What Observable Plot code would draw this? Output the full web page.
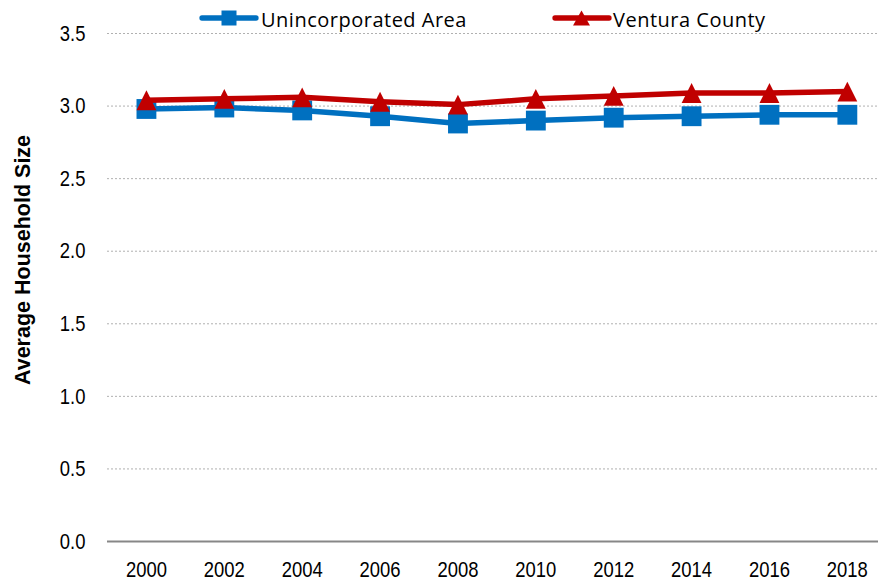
<!DOCTYPE html>
<html>
<head>
<meta charset="utf-8">
<script src="https://cdn.jsdelivr.net/npm/d3@7"></script>
<script src="https://cdn.jsdelivr.net/npm/@observablehq/plot@0.6"></script>
<style>
  html, body { margin: 0; padding: 0; background: #fff; }
  #chart { width: 878px; height: 582px; }
</style>
</head>
<body>
<div id="chart"></div>
<script>
const years = [2000, 2002, 2004, 2006, 2008, 2010, 2012, 2014, 2016, 2018];
const unincorporated = [2.98, 2.99, 2.97, 2.93, 2.88, 2.90, 2.92, 2.93, 2.94, 2.94];
const ventura = [3.04, 3.05, 3.06, 3.03, 3.01, 3.05, 3.07, 3.09, 3.09, 3.10];
const yTicks = [0, 0.5, 1.0, 1.5, 2.0, 2.5, 3.0, 3.5];
const seriesNames = ["Unincorporated Area", "Ventura County"];
const yTitle = "Average Household Size";

const blue = "#0070C0";
const red = "#C00000";

const dataU = years.map((y, i) => ({year: y, value: unincorporated[i]}));
const dataV = years.map((y, i) => ({year: y, value: ventura[i]}));

// Triangle whose bounding box is centred on the point (like Excel markers)
const triangle = {
  draw(ctx, size) {
    const s = Math.sqrt(size) / 2;
    ctx.moveTo(0, -s);
    ctx.lineTo(s, s);
    ctx.lineTo(-s, s);
    ctx.closePath();
  }
};

const plot = Plot.plot({
  width: 878,
  height: 582,
  marginLeft: 107,
  marginRight: 0,
  marginTop: 33,
  marginBottom: 41,
  style: {fontFamily: "'Liberation Sans', Arial, sans-serif", fontSize: "22.5px", color: "#000", background: "#fff"},
  x: {type: "linear", domain: [1999, 2018.8]},
  y: {domain: [0, 3.5]},
  marks: [
    Plot.gridY(yTicks.filter(d => d > 0), {stroke: "#b0b0b0", strokeOpacity: 1, strokeDasharray: "2,2", strokeWidth: 1}),
    Plot.ruleY([0], {stroke: "#878787", strokeWidth: 2}),
    Plot.axisY({ticks: yTicks, tickFormat: d => d.toFixed(1), tickSize: 0, tickPadding: 22, label: null}),
    Plot.axisX({ticks: years, tickFormat: d => String(d), tickSize: 0, tickPadding: 20, label: null}),
    Plot.line(dataU, {x: "year", y: "value", stroke: blue, strokeWidth: 5.5}),
    Plot.dot(dataU, {x: "year", y: "value", symbol: "square", r: 11.2, fill: blue}),
    Plot.line(dataV, {x: "year", y: "value", stroke: red, strokeWidth: 5.5}),
    Plot.dot(dataV, {x: "year", y: "value", symbol: triangle, r: 11.2, fill: red})
  ]
});

document.getElementById("chart").appendChild(plot);

const svg = d3.select(plot);

// Condense tick labels horizontally (the reference uses a narrow face)
svg.selectAll('g[aria-label="x-axis tick label"] text, g[aria-label="y-axis tick label"] text')
  .each(function() {
    const t = this.getAttribute("transform") || "";
    this.setAttribute("transform", t + " scale(0.82,1)");
  });

// Y axis title
svg.append("text")
  .attr("transform", "translate(23,260) rotate(-90)")
  .attr("text-anchor", "middle")
  .attr("dominant-baseline", "central")
  .attr("font-family", "'Liberation Sans', Arial, sans-serif")
  .attr("font-weight", "bold")
  .attr("font-size", "21.5px")
  .attr("fill", "#000")
  .text(yTitle);

// Legend
const legend = svg.append("g")
  .attr("font-family", "'Open Sans', Lato, sans-serif")
  .attr("font-size", "20px")
  .attr("letter-spacing", "0.5px")
  .attr("text-anchor", "start");
const ly = 18;
// Unincorporated Area
legend.append("line").attr("x1", 202).attr("x2", 256).attr("y1", ly).attr("y2", ly)
  .attr("stroke", blue).attr("stroke-width", 5.3).attr("stroke-linecap", "round");
legend.append("rect").attr("x", 221.5).attr("y", ly - 7.5).attr("width", 15).attr("height", 15).attr("fill", blue);
legend.append("text").attr("x", 261).attr("y", 27).attr("fill", "#000").text(seriesNames[0]);
// Ventura County
legend.append("line").attr("x1", 555).attr("x2", 609).attr("y1", ly).attr("y2", ly)
  .attr("stroke", red).attr("stroke-width", 5.3).attr("stroke-linecap", "round");
legend.append("path").attr("d", `M581.5,${ly - 7.5}L590,${ly + 7.5}L573,${ly + 7.5}Z`).attr("fill", red);
legend.append("text").attr("x", 613).attr("y", 27).attr("fill", "#000").text(seriesNames[1]);
</script>
</body>
</html>
